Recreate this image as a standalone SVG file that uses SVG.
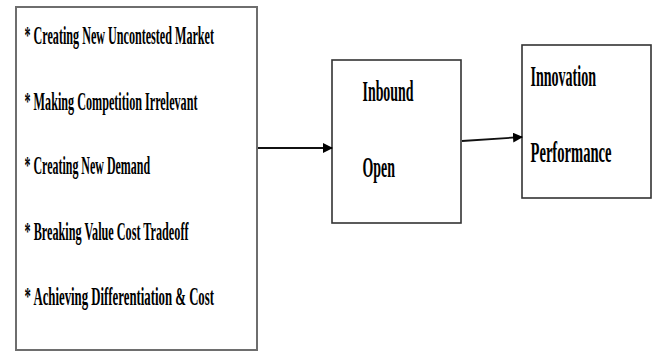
<svg xmlns="http://www.w3.org/2000/svg" width="654" height="351" viewBox="0 0 654 351">
<defs>
<style>
.box{fill:#fff;stroke:#333;stroke-width:1.6}
.lbox{fill:#fff;stroke:#6e6e6e;stroke-width:2}
.t{font-family:"Liberation Serif","Times New Roman",serif;font-weight:bold;fill:#000}
.s{font-size:26px}
.b{font-size:30px}
.c{stroke:#111;stroke-width:1.8;fill:none}
</style>
<marker id="ah" markerWidth="10" markerHeight="10" refX="9" refY="5" orient="auto" markerUnits="userSpaceOnUse">
<path d="M0,0 L10,5 L0,10 Z" fill="#000"/>
</marker>
</defs>
<rect width="654" height="351" fill="#fff"/>
<g id="node-strategies">
<rect class="lbox" x="16" y="7" width="241" height="343"/>
<text class="t s" transform="translate(24.5,44) scale(0.48,1)" textLength="394.8" lengthAdjust="spacingAndGlyphs">* Creating New Uncontested  Market</text>
<text class="t s" transform="translate(24.5,110) scale(0.48,1)" textLength="360.4" lengthAdjust="spacingAndGlyphs">* Making Competition Irrelevant</text>
<text class="t s" transform="translate(24.5,174) scale(0.48,1)" textLength="261.5" lengthAdjust="spacingAndGlyphs">* Creating New  Demand</text>
<text class="t s" transform="translate(24.5,240) scale(0.48,1)" textLength="341.7" lengthAdjust="spacingAndGlyphs">* Breaking Value Cost Tradeoff</text>
<text class="t s" transform="translate(24.5,305) scale(0.48,1)" textLength="394.8" lengthAdjust="spacingAndGlyphs">* Achieving Differentiation &amp; Cost</text>
</g>
<g id="node-inbound-open">
<rect class="box" x="332" y="60" width="129" height="163"/>
<text class="t b" transform="translate(362.5,101) scale(0.48,1)" textLength="106.25" lengthAdjust="spacingAndGlyphs">Inbound</text>
<text class="t b" transform="translate(362.5,176.5) scale(0.48,1)" textLength="67.7" lengthAdjust="spacingAndGlyphs">Open</text>
</g>
<g id="node-innovation-performance">
<rect class="box" x="522" y="45" width="129" height="153"/>
<text class="t b" transform="translate(530.5,86) scale(0.48,1)" textLength="136.5" lengthAdjust="spacingAndGlyphs">Innovation</text>
<text class="t b" transform="translate(530.5,161.5) scale(0.48,1)" textLength="168.75" lengthAdjust="spacingAndGlyphs">Performance</text>
</g>
<g id="connectors">
<line class="c" x1="258" y1="148" x2="332" y2="148" marker-end="url(#ah)"/>
<line class="c" x1="462" y1="141" x2="522" y2="137" marker-end="url(#ah)"/>
</g>
</svg>
